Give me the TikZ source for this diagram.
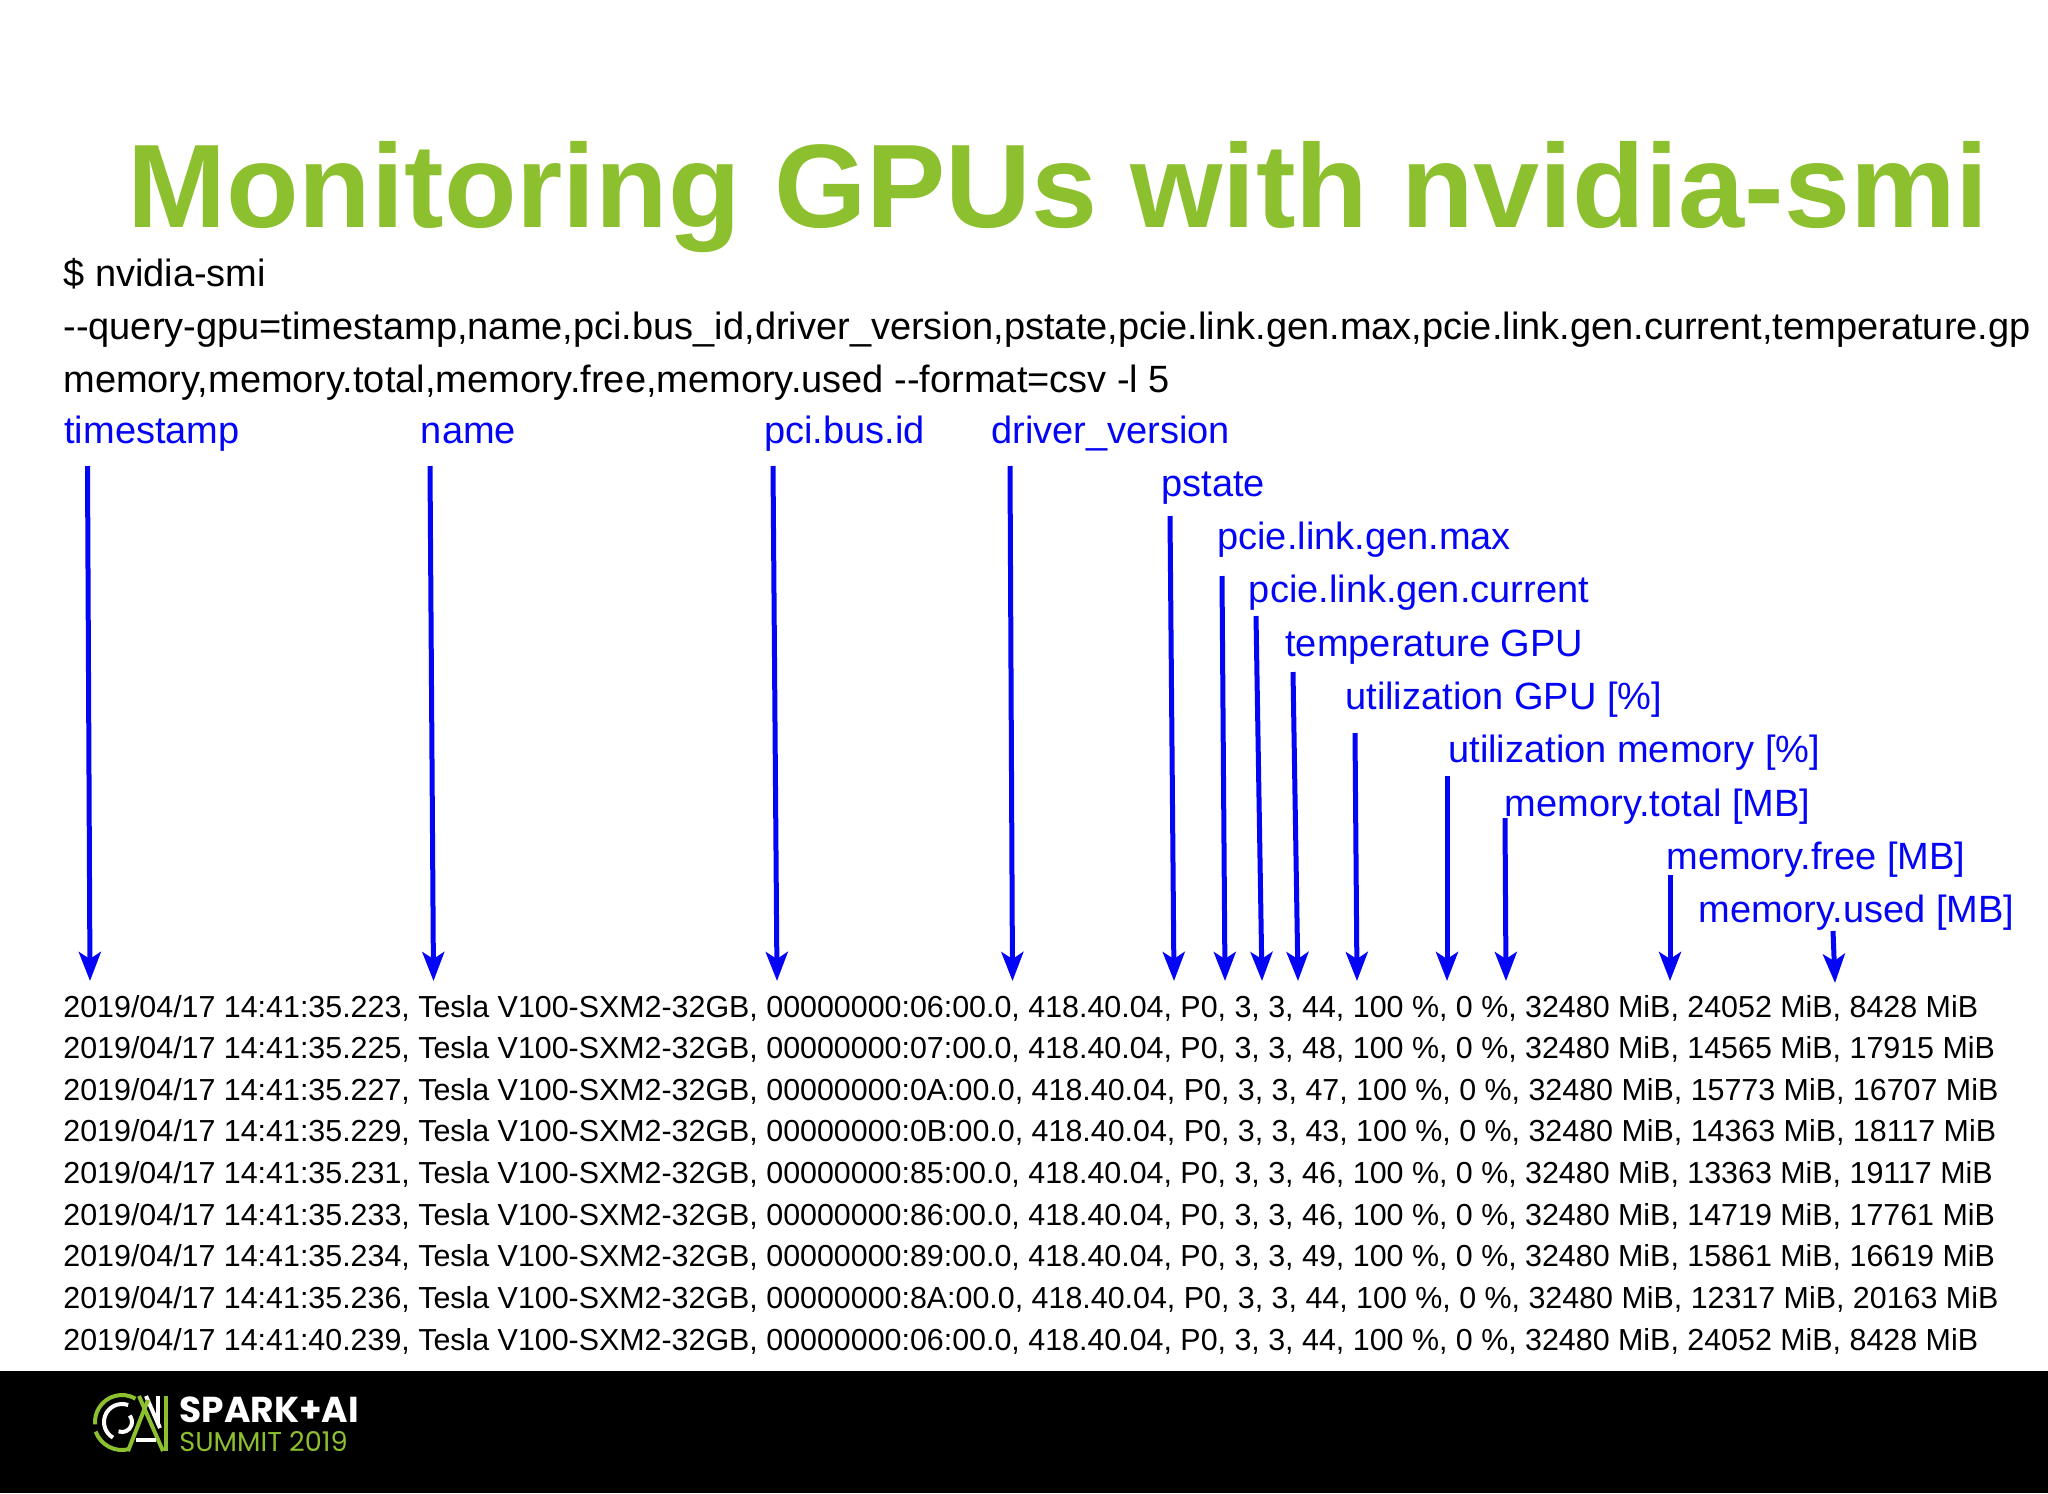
\documentclass[tikz,border=0pt]{standalone}
\usepackage{fontspec}
\setmainfont{Liberation Sans}
\newfontfamily\logofont{Poppins}
\usetikzlibrary{arrows.meta, positioning}

\definecolor{titlegreen}{HTML}{8DC02F}
\definecolor{labelblue}{HTML}{0505F5}

\tikzset{
    cmdline/.style={anchor=base west, inner sep=0pt, font=\fontsize{19}{19}\selectfont},
    fieldlabel/.style={cmdline, text=labelblue},
    datarow/.style={anchor=base west, inner sep=0pt, font=\fontsize{15.2}{15.2}\selectfont},
    nextrow/.style={datarow, below=20.83pt of #1.base west, anchor=base west},
    fieldarrow/.style={-{Stealth[length=14.5pt, width=11pt, inset=3.5pt]}, line width=2.5pt, labelblue},
    logoline/.style={line width=2pt, titlegreen},
    logowhite/.style={line width=2pt, white},
}

\begin{document}
\begin{tikzpicture}[x=0.5pt, y=-0.5pt]
        \useasboundingbox (0,0) rectangle (2048,1493);

        \node (title) [anchor=base west, inner sep=0pt, text=titlegreen, font=\fontsize{59.4}{59.4}\bfseries\selectfont] at (127,227) {Monitoring GPUs with nvidia-smi};

        \node (cmd1) [cmdline] at (63,286) {\$ nvidia-smi};
        \node (cmd2) [cmdline] at (63,339) {-{}-query-gpu=timestamp,name,pci.bus\_id,driver\_version,pstate,pcie.link.gen.max,pcie.link.gen.current,temperature.gp};
        \node (cmd3) [cmdline] at (63,392) {memory,memory.total,memory.free,memory.used -{}-format=csv -l 5};

        \node (timestamp) [fieldlabel] at (64,443) {timestamp};
        \node (name) [fieldlabel] at (420.5,443) {name};
        \node (busid) [fieldlabel] at (764,443) {pci.bus.id};
        \node (driver) [fieldlabel] at (991,443) {driver\_version};
        \node (pstate) [fieldlabel] at (1161,496.3) {pstate};
        \node (genmax) [fieldlabel] at (1217,549.6) {pcie.link.gen.max};
        \node (gencur) [fieldlabel] at (1248.5,602.9) {pcie.link.gen.current};
        \node (tempgpu) [fieldlabel] at (1285,656.2) {temperature GPU};
        \node (utilgpu) [fieldlabel] at (1345,709.5) {utilization GPU [\%]};
        \node (utilmem) [fieldlabel] at (1448,762.8) {utilization memory [\%]};
        \node (memtotal) [fieldlabel] at (1504.5,816.1) {memory.total [MB]};
        \node (memfree) [fieldlabel] at (1666,869.4) {memory.free [MB]};
        \node (memused) [fieldlabel] at (1698,922.7) {memory.used [MB]};

        \coordinate (s1) at (87.5,466);   \coordinate (e1) at (90,981);
        \coordinate (s2) at (430,466);    \coordinate (e2) at (433.5,981);
        \coordinate (s3) at (773,466);    \coordinate (e3) at (777,981);
        \coordinate (s4) at (1010,466);   \coordinate (e4) at (1012.5,981);
        \coordinate (s5) at (1170,516);   \coordinate (e5) at (1174,981);
        \coordinate (s6) at (1222,576);   \coordinate (e6) at (1225,981);
        \coordinate (s7) at (1256,616);   \coordinate (e7) at (1262,981);
        \coordinate (s8) at (1293,672);   \coordinate (e8) at (1298,981);
        \coordinate (s9) at (1355,733);   \coordinate (e9) at (1357,981);
        \coordinate (s10) at (1447,776);  \coordinate (e10) at (1447,981);
        \coordinate (s11) at (1505,818);  \coordinate (e11) at (1506,981);
        \coordinate (s12) at (1670,875);  \coordinate (e12) at (1670,981);
        \coordinate (s13) at (1833,931);  \coordinate (e13) at (1835,983);

        \path [fieldarrow]
            (s1) edge (e1)
            (s2) edge (e2)
            (s3) edge (e3)
            (s4) edge (e4)
            (s5) edge (e5)
            (s6) edge (e6)
            (s7) edge (e7)
            (s8) edge (e8)
            (s9) edge (e9)
            (s10) edge (e10)
            (s11) edge (e11)
            (s12) edge (e12)
            (s13) edge (e13)
            ;

        \node (r1) [datarow] at (63,1017) {2019/04/17 14:41:35.223, Tesla V100-SXM2-32GB, 00000000:06:00.0, 418.40.04, P0, 3, 3, 44, 100 \%, 0 \%, 32480 MiB, 24052 MiB, 8428 MiB};
        \node (r2) [nextrow=r1] {2019/04/17 14:41:35.225, Tesla V100-SXM2-32GB, 00000000:07:00.0, 418.40.04, P0, 3, 3, 48, 100 \%, 0 \%, 32480 MiB, 14565 MiB, 17915 MiB};
        \node (r3) [nextrow=r2] {2019/04/17 14:41:35.227, Tesla V100-SXM2-32GB, 00000000:0A:00.0, 418.40.04, P0, 3, 3, 47, 100 \%, 0 \%, 32480 MiB, 15773 MiB, 16707 MiB};
        \node (r4) [nextrow=r3] {2019/04/17 14:41:35.229, Tesla V100-SXM2-32GB, 00000000:0B:00.0, 418.40.04, P0, 3, 3, 43, 100 \%, 0 \%, 32480 MiB, 14363 MiB, 18117 MiB};
        \node (r5) [nextrow=r4] {2019/04/17 14:41:35.231, Tesla V100-SXM2-32GB, 00000000:85:00.0, 418.40.04, P0, 3, 3, 46, 100 \%, 0 \%, 32480 MiB, 13363 MiB, 19117 MiB};
        \node (r6) [nextrow=r5] {2019/04/17 14:41:35.233, Tesla V100-SXM2-32GB, 00000000:86:00.0, 418.40.04, P0, 3, 3, 46, 100 \%, 0 \%, 32480 MiB, 14719 MiB, 17761 MiB};
        \node (r7) [nextrow=r6] {2019/04/17 14:41:35.234, Tesla V100-SXM2-32GB, 00000000:89:00.0, 418.40.04, P0, 3, 3, 49, 100 \%, 0 \%, 32480 MiB, 15861 MiB, 16619 MiB};
        \node (r8) [nextrow=r7] {2019/04/17 14:41:35.236, Tesla V100-SXM2-32GB, 00000000:8A:00.0, 418.40.04, P0, 3, 3, 44, 100 \%, 0 \%, 32480 MiB, 12317 MiB, 20163 MiB};
        \node (r9) [nextrow=r8] {2019/04/17 14:41:40.239, Tesla V100-SXM2-32GB, 00000000:06:00.0, 418.40.04, P0, 3, 3, 44, 100 \%, 0 \%, 32480 MiB, 24052 MiB, 8428 MiB};

        % footer band and logo
        \fill [black] (0,1371) rectangle (2048,1493);
        \draw [logoline] (122,1422) ++(60:13.5pt) arc [start angle=60, end angle=185, radius=13.5pt];
        \draw [logoline] (122,1422) ++(200:14pt) arc [start angle=200, end angle=285, radius=14pt];
        \draw [logowhite] (122,1422) ++(70:9pt) arc [start angle=70, end angle=240, radius=9pt];
        \draw [logowhite] (122,1422) ++(250:5pt) arc [start angle=250, end angle=400, radius=5pt];
        \draw [logoline] (139,1396) -- (163,1451);
        \draw [logowhite] (146,1396) -- (160,1428);
        \draw [logoline] (148,1400) -- (128,1451);
        \draw [logowhite] (136,1440) -- (156,1440);
        \draw [logowhite] (158,1396) -- (158,1424);
        \draw [logoline] (166,1396) -- (166,1451);

        \node (spark) [anchor=base west, inner sep=0pt, text=white, font=\logofont\fontsize{18}{18}\bfseries\selectfont] at (179,1422) {SPARK+AI};
        \node (summit) [anchor=base west, inner sep=0pt, text=titlegreen, font=\logofont\fontsize{13.6}{13.6}\selectfont] at (179,1451) {SUMMIT 2019};
    \end{tikzpicture}
\end{document}
